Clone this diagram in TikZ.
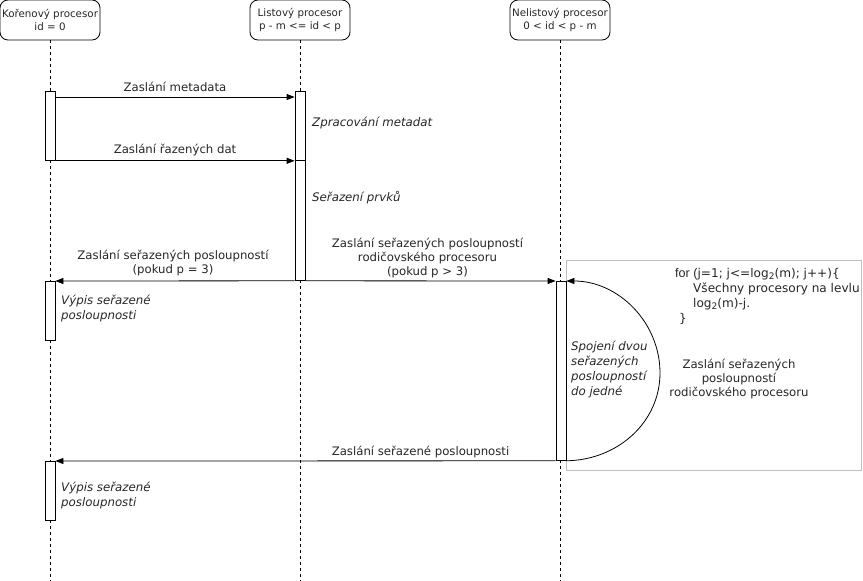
\documentclass[tikz,border=0pt]{standalone}
\usepackage{fontspec}
\setmainfont{DejaVu Sans}
\newfontfamily\codefont{Liberation Sans}
\usetikzlibrary{arrows.meta}
\newcommand{\subtwo}{\raisebox{-2.5pt}{\fontsize{9}{9}\selectfont 2}}
\begin{document}
\begin{tikzpicture}[x=1pt,y=-1pt,
  header/.style={draw,rounded corners=8pt,minimum width=100pt,minimum height=40pt,align=center,font=\fontsize{10.3}{12.5}\selectfont,inner sep=1pt,line width=0.8pt},
  life/.style={dash pattern=on 3pt off 3pt,line width=0.7pt},
  bar/.style={draw,fill=white,minimum width=10pt,inner sep=0pt,anchor=north,line width=0.8pt},
  msg/.style={-{Triangle[length=8pt,width=6pt]},line width=0.8pt},
  lbl/.style={font=\fontsize{11.7}{14}\selectfont,align=center,inner sep=0pt},
  note/.style={font=\fontsize{11.8}{15}\selectfont\itshape,align=left,inner sep=0pt,anchor=north west},
  every node/.append style={text=black!85}
]
\useasboundingbox (0,0) rectangle (863,581);
% headers
\node[header] (h1) at (50,20) {Kořenový procesor\\id = 0};
\node[header] (h2) at (300,20) {Listový procesor\\p - m <= id < p};
\node[header] (h3) at (560,20) {Nelistový procesor\\0 < id < p - m};
\coordinate (e1) at (50,581);
\coordinate (e2) at (300,581);
\coordinate (e3) at (560,581);
\draw[life] (h1.south) -- (e1);
\draw[life] (h2.south) -- (e2);
\draw[life] (h3.south) -- (e3);
% gray frame
\draw[black!25,line width=0.8pt] (566,260) rectangle (861.5,470);
% bars
\node[bar,minimum height=69pt] (r1) at (50,91) {};
\node[bar,minimum height=69pt] (l1) at (300,91) {};
\node[bar,minimum height=120pt] (l2) at (300,160) {};
\node[bar,minimum height=59pt] (r2) at (50,281) {};
\node[bar,minimum height=179pt] (n1) at (561,281) {};
\node[bar,minimum height=59pt] (r3) at (50,461) {};
% messages
\draw[msg] (r1.east |- 0,97) -- node[lbl,above=5pt]{Zaslání metadata} (l1.west |- 0,97);
\draw[msg] (r1.south east) -- node[lbl,above=4pt]{Zaslání řazených dat} (l1.south west);
\draw[msg] (l2.south west) -- node[lbl,above=5pt,xshift=-2pt]{Zaslání seřazených posloupností\\(pokud p = 3)} (r2.north east);
\draw[msg] (l2.south east) -- node[lbl,above=3pt,xshift=-3pt]{Zaslání seřazených posloupností\\rodičovského procesoru\\(pokud p > 3)} (n1.north west);
\draw[msg] (n1.south west) -- node[lbl,above=3pt,pos=0.27]{Zaslání seřazené posloupnosti} (r3.north east);
% self loop
\coordinate (mid) at (660,373);
\draw[msg] (n1.south east) .. controls (618,460) and (660,422) .. (mid) .. controls (660,322) and (618,281) .. (n1.north east);
% notes
\node[note] (t1) at (312,117) {Zpracování metadat};
\node[note] (t2) at (312,191) {Seřazení prvků};
\node[note] (t3) at (61,295) {Výpis seřazené\\posloupnosti};
\node[note] (t4) at (571,341) {Spojení dvou\\seřazených\\posloupností\\do jedné};
\node[note] (t5) at (61,482) {Výpis seřazené\\posloupnosti};
% code text
\node[font=\fontsize{12.1}{15}\selectfont,align=left,anchor=north west,inner sep=0pt] (code) at (675,268) {{\codefont\fontsize{12.6}{15}\selectfont for (}j=1; j<=log\subtwo(m); j++)\{\\
\hspace*{18pt}Všechny procesory na levlu\\
\hspace*{18pt}log\subtwo(m)-j.\\
\hspace*{4pt}\}};
\node[lbl] (t6) at (739,379) {Zaslání seřazených\\posloupností\\rodičovského procesoru};
\end{tikzpicture}
\end{document}
